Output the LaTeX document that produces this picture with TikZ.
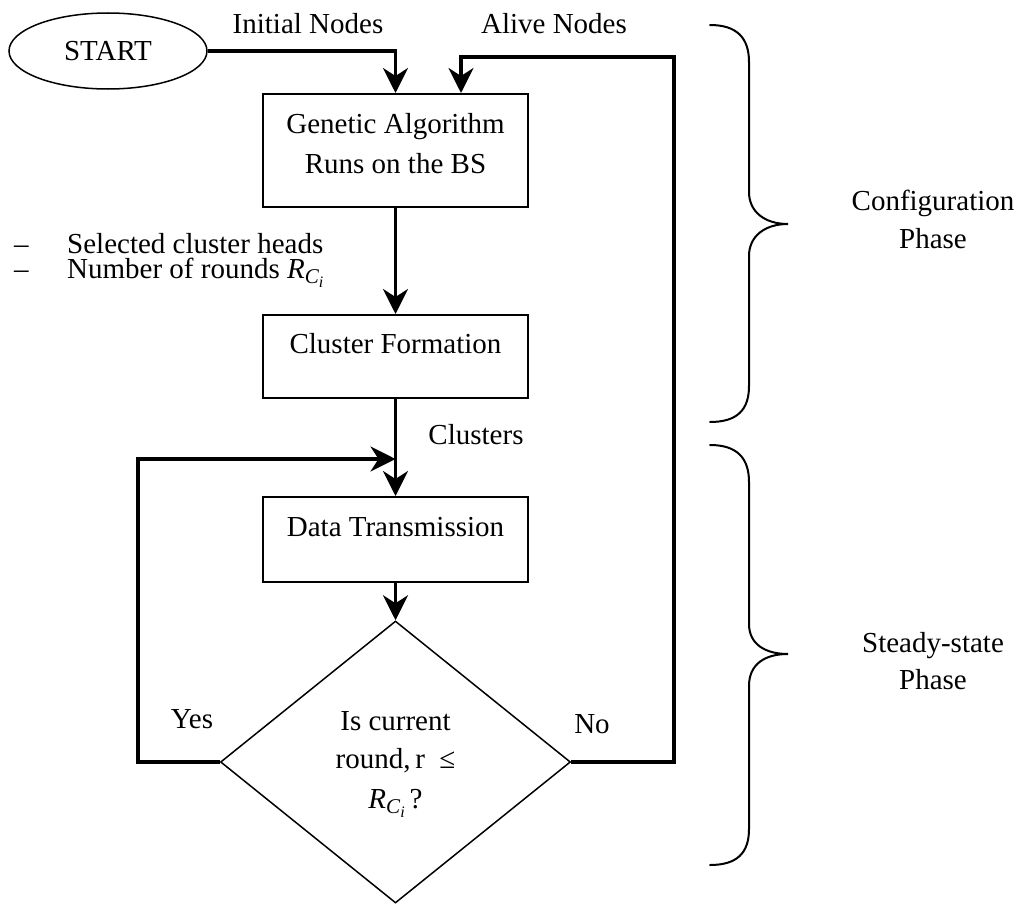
\documentclass[tikz,border=0pt]{standalone}
\usepackage{fontspec}
\setmainfont{Liberation Serif}
\usetikzlibrary{arrows.meta,shapes.geometric}
\newcommand{\myRCi}{\textit{R}\raisebox{-5bp}{\fontsize{21bp}{21bp}\selectfont\textit{C}\raisebox{-4bp}{\fontsize{16bp}{16bp}\selectfont\textit{i}}}}
\begin{document}
\begin{tikzpicture}[x=1bp,y=-1bp,
  every node/.style={font=\fontsize{29bp}{35bp}\selectfont},
  txt/.style={inner sep=0pt, anchor=base},
  txtl/.style={inner sep=0pt, anchor=base west},
  box/.style={draw, line width=2bp, minimum width=265bp, inner sep=0pt},
  flow/.style={line width=3.3bp, -{Stealth[length=25bp,width=25bp,inset=8bp]}},
  brace/.style={line width=2bp, line cap=round}]
\useasboundingbox (0,0) rectangle (1019,905);

% shapes
\node[draw, ellipse, line width=1.5bp, minimum width=198bp, minimum height=76bp, inner sep=0pt] (start) at (108,51) {START};
\node[box, minimum height=113bp] (ga) at (395.5,150.5) {};
\node[box, minimum height=83bp] (cf) at (395.5,356.5) {};
\node[box, minimum height=85bp] (dt) at (395.5,539.5) {};
\node[draw, diamond, line width=1.5bp, minimum width=350bp, minimum height=282bp, inner sep=0pt] (dia) at (395.5,762) {};

% texts
\node[txt] (initial) at (308,33) {Initial Nodes};
\node[txt] (alivet) at (554,33) {Alive Nodes};
\node[txt] (ga1) at (395.5,133) {Genetic Algorithm};
\node[txt] (ga2) at (395.5,173) {Runs on the BS};
\node[txtl] (d1) at (14,253) {–};
\node[txtl] (l1) at (67,253) {Selected cluster heads};
\node[txtl] (d2) at (14,278) {–};
\node[txtl] (l2) at (67,278) {Number of rounds \myRCi};
\node[txt] (cft) at (395.5,353) {Cluster Formation};
\node[txt] (clus) at (476,444) {Clusters};
\node[txt] (dtt) at (395.5,536) {Data Transmission};
\node[txt] (yes) at (192,728) {Yes};
\node[txt] (no) at (592,733) {No};
\node[txt] (q1) at (395.5,730) {Is current};
\node[txt] (q2) at (395.5,768) {round,\,r\ \ ≤};
\node[txt] (q3) at (395.5,808) {\myRCi\,?};
\node[txt] (c1) at (933,210) {Configuration};
\node[txt] (c2) at (933,248) {Phase};
\node[txt] (s1) at (933,652) {Steady-state};
\node[txt] (s2) at (933,689) {Phase};

% connectors
\coordinate (alive) at (461,57);
\coordinate (nocorner) at (674,762);
\coordinate (yescorner) at (138,762);
\coordinate (join) at (395.5,459);
\draw[flow] (start.east) -| (ga.north);
\draw[flow] (dia.east) -- (nocorner) |- (alive) -- (alive |- ga.north);
\draw[flow] (ga.south) -- (cf.north);
\draw[flow] (cf.south) -- (dt.north);
\draw[flow] (dia.west) -- (yescorner) |- (join);
\draw[flow] (dt.south) -- (dia.north);

% braces
\draw[brace] (710,25) .. controls (737,25) and (749,38) .. (749,62) -- (749,192)
  .. controls (749,212) and (765,224) .. (788,224)
  .. controls (765,224) and (749,236) .. (749,256) -- (749,386)
  .. controls (749,410) and (737,422) .. (710,422);
\draw[brace] (710,445) .. controls (737,445) and (749,458) .. (749,482) -- (749,624)
  .. controls (749,644) and (765,654) .. (788,654)
  .. controls (765,654) and (749,664) .. (749,686) -- (749,829)
  .. controls (749,853) and (737,865) .. (710,865);
\end{tikzpicture}
\end{document}
